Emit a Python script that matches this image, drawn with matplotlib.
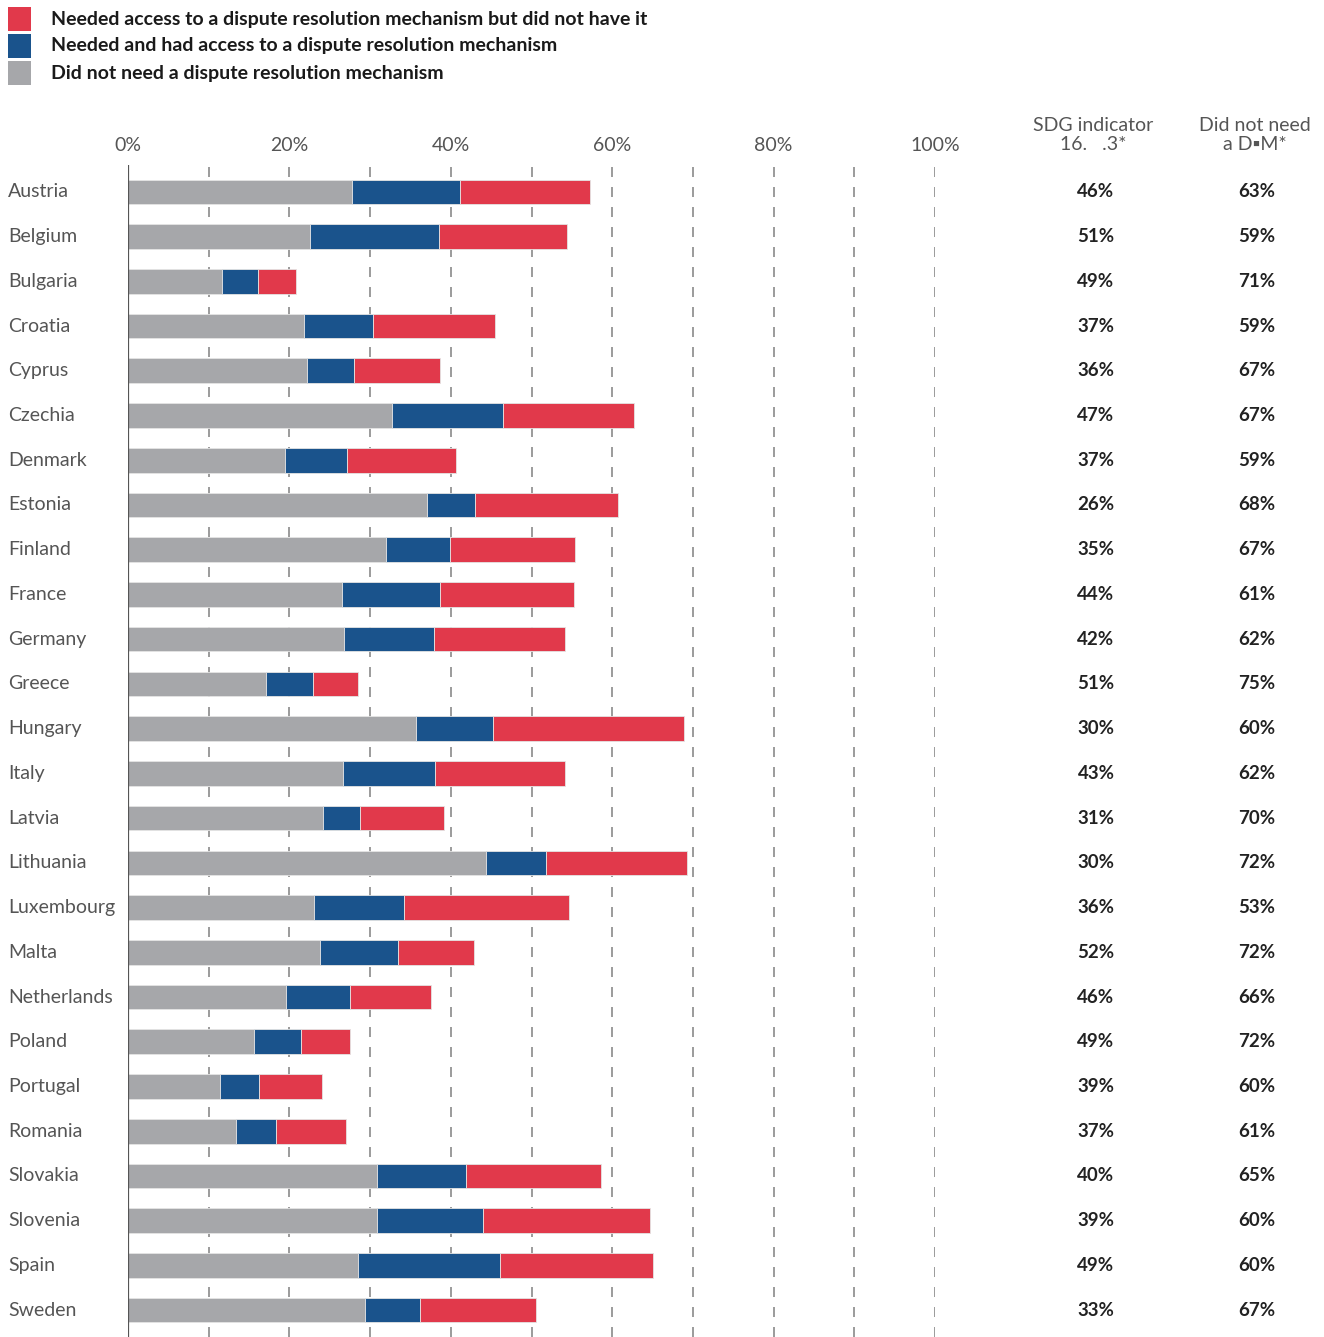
import matplotlib
matplotlib.use("Agg")
import matplotlib.pyplot as plt
from matplotlib.transforms import blended_transform_factory
from matplotlib.patches import Rectangle

plt.rcParams['font.family'] = ['Lato', 'DejaVu Sans']
plt.rcParams['lines.scale_dashes'] = False

countries = ["Austria", "Belgium", "Bulgaria", "Croatia", "Cyprus", "Czechia", "Denmark",
             "Estonia", "Finland", "France", "Germany", "Greece", "Hungary", "Italy",
             "Latvia", "Lithuania", "Luxembourg", "Malta", "Netherlands", "Poland",
             "Portugal", "Romania", "Slovakia", "Slovenia", "Spain", "Sweden"]

# cumulative ends (percent)
gray_end = [27.7, 22.5, 11.7, 21.8, 22.2, 32.7, 19.5, 37.0, 32.0, 26.5, 26.8, 17.1, 35.7,
            26.6, 24.2, 44.3, 23.0, 23.8, 19.6, 15.6, 11.4, 13.4, 30.9, 30.9, 28.5, 29.4]
blue_end = [41.1, 38.5, 16.1, 30.4, 28.0, 46.5, 27.1, 43.0, 39.9, 38.7, 37.9, 22.9, 45.2,
            38.1, 28.7, 51.8, 34.2, 33.5, 27.5, 21.4, 16.2, 18.4, 41.9, 44.0, 46.1, 36.2]
red_end = [57.3, 54.4, 20.8, 45.5, 38.7, 62.7, 40.7, 60.7, 55.4, 55.3, 54.2, 28.5, 68.9,
           54.2, 39.2, 69.3, 54.6, 42.9, 37.6, 27.5, 24.0, 27.0, 58.6, 64.7, 65.1, 50.5]

did_not_need = gray_end
had_access = [b - g for b, g in zip(blue_end, gray_end)]
no_access = [r - b for r, b in zip(red_end, blue_end)]

sdg_values = [46, 51, 49, 37, 36, 47, 37, 26, 35, 44, 42, 51, 30, 43, 31, 30, 36, 52, 46,
              49, 39, 37, 40, 39, 49, 33]
dnn_values = [63, 59, 71, 59, 67, 67, 59, 68, 67, 61, 62, 75, 60, 62, 70, 72, 53, 72, 66,
              72, 60, 61, 65, 60, 60, 67]

legend_labels = ["Needed access to a dispute resolution mechanism but did not have it",
                 "Needed and had access to a dispute resolution mechanism",
                 "Did not need a dispute resolution mechanism"]
xtick_vals = [0, 20, 40, 60, 80, 100]
xtick_labels = ["0%", "20%", "40%", "60%", "80%", "100%"]
col_headers = ["SDG indicator\n16.   .3*", "Did not need\na D\u25aaM*"]

RED = "#E1394B"
BLUE = "#1A538C"
GRAY = "#A6A7AA"
TXT = "#555555"

W, H = 1324, 1337
fig = plt.figure(figsize=(W / 100, H / 100), dpi=100)
ax = fig.add_axes([128 / W, 0, (935 - 128) / W, 1 - 165 / H])

y = list(range(len(countries)))
bh = 0.55
ec = "#e4e4e4"
ax.barh(y, did_not_need, height=bh, color=GRAY, edgecolor=ec, linewidth=0.6, zorder=3)
ax.barh(y, had_access, left=did_not_need, height=bh, color=BLUE, edgecolor=ec,
        linewidth=0.6, zorder=3)
ax.barh(y, no_access, left=blue_end, height=bh, color=RED, edgecolor=ec, linewidth=0.6,
        zorder=3)

ax.set_xlim(0, 100)
ax.set_ylim(len(countries) - 0.4, -0.6)

for gx in range(10, 101, 10):
    ax.axvline(gx, color="#808080", linewidth=1.1, linestyle=(0, (7.2, 7.2)), zorder=1)
ax.axvline(0, color="#555555", linewidth=1.6, zorder=4)

for s in ax.spines.values():
    s.set_visible(False)

ax.xaxis.tick_top()
ax.set_xticks(xtick_vals)
ax.set_xticklabels(xtick_labels, fontsize=14, color=TXT)
ax.tick_params(axis="x", length=0, pad=8)
ax.set_yticks([])

# country labels and value columns
trans_lab = blended_transform_factory(fig.transFigure, ax.transData)
for i, c in enumerate(countries):
    fig.text(8 / W, i, c, transform=trans_lab, ha="left", va="center", fontsize=14,
             color=TXT)
    fig.text(1096 / W, i, f"{sdg_values[i]}%", transform=trans_lab, ha="center",
             va="center", fontsize=13.5, color="#222222", fontweight="bold")
    fig.text(1257 / W, i, f"{dnn_values[i]}%", transform=trans_lab, ha="center",
             va="center", fontsize=13.5, color="#222222", fontweight="bold")

# column headers
fig.text(1093 / W, 1 - 135 / H, col_headers[0], ha="center", va="center", fontsize=14,
         color=TXT, linespacing=1.1)
fig.text(1255 / W, 1 - 135 / H, col_headers[1], ha="center", va="center", fontsize=14,
         color=TXT, linespacing=1.1)

# legend
leg_colors = [RED, BLUE, GRAY]
leg_y = [19, 46, 73]
for col, lab, yy in zip(leg_colors, legend_labels, leg_y):
    fig.patches.append(Rectangle((8 / W, 1 - (yy + 12) / H), 23 / W, 24 / H,
                                 transform=fig.transFigure, facecolor=col,
                                 edgecolor="none"))
    fig.text(51 / W, 1 - yy / H, lab, ha="left", va="center", fontsize=14,
             color="#1a1a1a", fontweight="bold")

fig.savefig("out.png", dpi=100)
